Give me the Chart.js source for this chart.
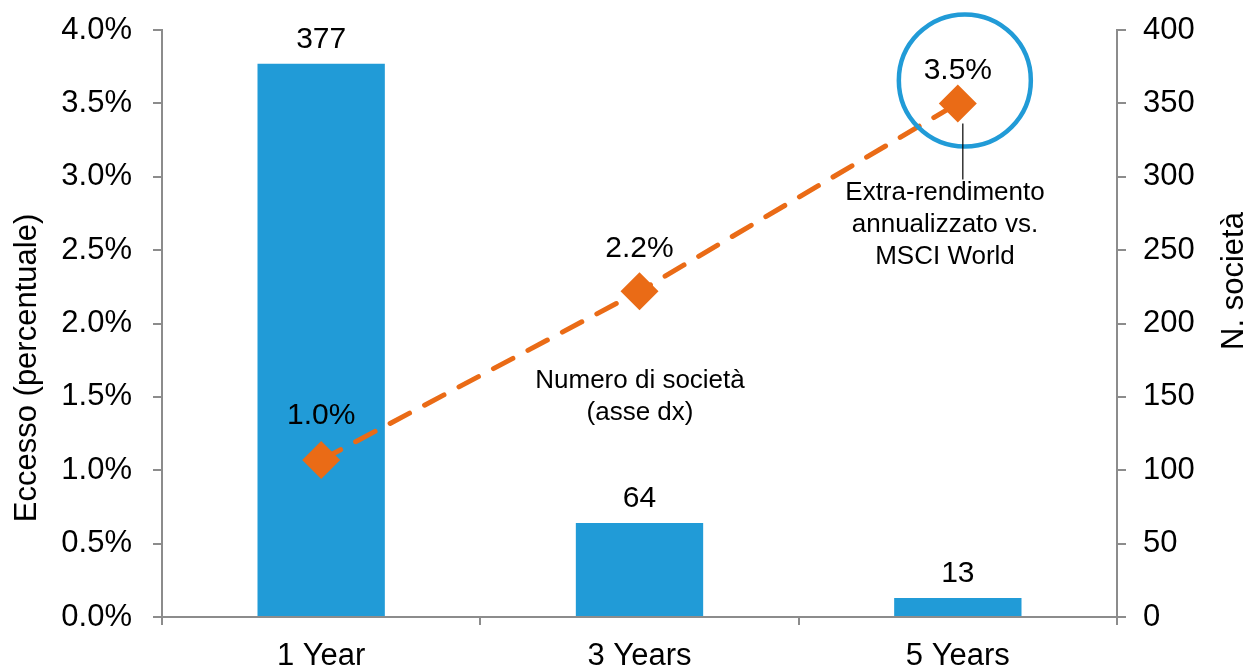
<!DOCTYPE html>
<html>
<head>
<meta charset="utf-8">
<script src="https://cdn.jsdelivr.net/npm/chart.js@4"></script>
<style>
  html, body { margin: 0; padding: 0; background: #fff; }
  #wrap { width: 1249px; height: 667px; }
</style>
</head>
<body>
<div id="wrap"><canvas id="chart" width="1249" height="667"></canvas></div>
<script>
// dati
const categories = ['1 Year', '3 Years', '5 Years'];
const numSocieta = [377, 64, 13];            // asse dx
const extraRend = [1.07, 2.22, 3.50];        // asse sx, %
const extraLabels = ['1.0%', '2.2%', '3.5%'];

const FONT = '"Liberation Sans", Arial, sans-serif';
const BLUE = '#219BD7';
const ORANGE = '#EA6B16';
const AXIS = '#8C8C8C';

// etichette e annotazioni disegnate a mano
const overlay = {
    id: 'overlay',
    afterDatasetsDraw(chart) {
        const ctx = chart.ctx;
        const bars = chart.getDatasetMeta(1).data;
        const pts = chart.getDatasetMeta(0).data;
        ctx.save();
        ctx.fillStyle = '#000';
        ctx.textAlign = 'center';
        ctx.textBaseline = 'alphabetic';
        ctx.font = '30px ' + FONT;
        bars.forEach((b, i) => ctx.fillText(String(numSocieta[i]), b.x, b.y - 16));
        const off = [36, 34, 24];
        pts.forEach((p, i) => ctx.fillText(extraLabels[i], p.x, p.y - off[i]));

        // cerchio attorno all'ultimo punto
        const last = pts[2];
        ctx.strokeStyle = BLUE;
        ctx.lineWidth = 4.5;
        ctx.beginPath();
        ctx.arc(last.x + 7, last.y - 23, 66, 0, Math.PI * 2);
        ctx.stroke();

        // linea di richiamo
        ctx.strokeStyle = '#000';
        ctx.lineWidth = 1.2;
        ctx.beginPath();
        ctx.moveTo(last.x + 5, last.y + 20);
        ctx.lineTo(last.x + 5, last.y + 76);
        ctx.stroke();

        ctx.font = '26px ' + FONT;
        ctx.textBaseline = 'middle';
        ['Extra-rendimento', 'annualizzato vs.', 'MSCI World'].forEach((t, i) =>
            ctx.fillText(t, 945, 193 + i * 32));
        ['Numero di società', '(asse dx)'].forEach((t, i) =>
            ctx.fillText(t, 640, 381 + i * 32));

        // titoli degli assi
        ctx.font = '31px ' + FONT;
        ctx.save();
        ctx.translate(27, 368);
        ctx.rotate(-Math.PI / 2);
        ctx.fillText('Eccesso (percentuale)', 0, 0);
        ctx.restore();
        ctx.save();
        ctx.translate(1234, 281);
        ctx.rotate(-Math.PI / 2);
        ctx.fillText('N. società', 0, 0);
        ctx.restore();
        ctx.restore();
    }
};

const ctx = document.getElementById('chart').getContext('2d');
const chart = new Chart(ctx, {
    type: 'bar',
    data: {
        labels: categories,
        datasets: [{
            type: 'line',
            label: 'Extra-rendimento',
            data: extraRend,
            yAxisID: 'y',
            borderColor: ORANGE,
            borderWidth: 5,
            borderDash: [22, 17],
            borderCapStyle: 'round',
            pointStyle: 'rectRot',
            pointRadius: 19,
            pointHoverRadius: 19,
            pointBackgroundColor: ORANGE,
            pointBorderColor: ORANGE,
            pointBorderWidth: 0,
            tension: 0,
            order: 0
        }, {
            type: 'bar',
            label: 'Numero di società',
            data: numSocieta,
            yAxisID: 'y1',
            backgroundColor: BLUE,
            barPercentage: 0.4,
            categoryPercentage: 1,
            order: 1
        }]
    },
    options: {
        responsive: false,
        animation: false,
        layout: { padding: { top: 30, left: 0, right: 0, bottom: 0 } },
        plugins: {
            legend: { display: false },
            tooltip: { enabled: false }
        },
        scales: {
            x: {
                offset: true,
                grid: {
                    offset: true,
                    drawOnChartArea: false,
                    tickLength: 8,
                    color: AXIS,
                    lineWidth: 2
                },
                border: { color: AXIS, width: 2 },
                ticks: { color: '#000', font: { family: FONT, size: 31 }, padding: 13 },
                afterFit(s) { s.height = 50; s.paddingLeft = 0; s.paddingRight = 0; }
            },
            y: {
                position: 'left',
                min: 0, max: 4,
                grid: { drawOnChartArea: false, tickLength: 9, color: AXIS, lineWidth: 2 },
                border: { color: AXIS, width: 2 },
                ticks: {
                    stepSize: 0.5,
                    color: '#000',
                    padding: 21,
                    font: { family: FONT, size: 31 },
                    callback: v => v.toFixed(1) + '%'
                },
                afterFit(s) { s.width = 162; s.paddingTop = 0; s.paddingBottom = 0; }
            },
            y1: {
                position: 'right',
                min: 0, max: 400,
                grid: { drawOnChartArea: false, tickLength: 9, color: AXIS, lineWidth: 2 },
                border: { color: AXIS, width: 2 },
                ticks: {
                    stepSize: 50,
                    color: '#000',
                    padding: 17,
                    font: { family: FONT, size: 31 }
                },
                afterFit(s) { s.width = 132; s.paddingTop = 0; s.paddingBottom = 0; }
            }
        }
    },
    plugins: [overlay]
});
</script>
</body>
</html>
